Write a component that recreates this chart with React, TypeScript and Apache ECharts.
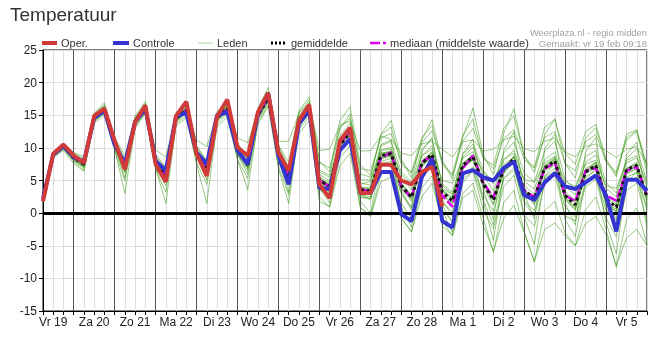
import React, { useEffect, useRef } from "react";
import * as echarts from "echarts";

// x index: 6-hourly steps from vr 19 feb 06:00 (index 0) to za 6 mrt 00:00 (index 59)
const dagLabels = ["Vr 19", "Za 20", "Zo 21", "Ma 22", "Di 23", "Wo 24", "Do 25", "Vr 26", "Za 27", "Zo 28", "Ma 1", "Di 2", "Wo 3", "Do 4", "Vr 5"];
const middernachten = [3, 7, 11, 15, 19, 23, 27, 31, 35, 39, 43, 47, 51, 55];
const yTicks = [-15, -10, -5, 0, 5, 10, 15, 20, 25];

const oper = [1.8, 9.1, 10.5, 8.8, 7.7, 14.9, 16.0, 11.1, 6.7, 14.0, 16.5, 7.5, 4.8, 14.9, 17.1, 9.1, 5.7, 14.8, 17.4, 10.1, 8.8, 15.5, 18.4, 9.3, 6.5, 14.2, 16.6, 4.4, 2.3, 11.1, 13.1, 3.1, 3.1, 7.4, 7.4, 5.0, 4.4, 6.3, 7.1, 1.0];
const controle = [2.2, 9.0, 10.3, 8.6, 7.9, 14.6, 15.7, 10.5, 7.6, 14.0, 16.0, 8.0, 6.5, 14.9, 15.3, 9.3, 7.5, 15.0, 15.5, 9.6, 7.5, 15.3, 18.4, 8.8, 4.4, 13.7, 15.8, 3.9, 3.7, 9.6, 11.4, 3.1, 3.1, 6.3, 6.3, -0.2, -1.2, 5.5, 8.3, -1.2, -2.2, 6.1, 6.6, 5.5, 5.0, 6.9, 7.9, 2.8, 2.0, 4.7, 6.1, 4.1, 3.7, 4.7, 5.8, 2.7, -2.8, 5.1, 5.1, 3.4];
const gemiddelde = [2.0, 9.0, 10.2, 8.5, 7.5, 14.6, 15.8, 10.6, 7.0, 14.0, 16.0, 7.6, 5.8, 14.5, 15.8, 9.2, 7.0, 14.6, 16.0, 9.6, 7.4, 15.0, 17.6, 9.0, 5.7, 14.0, 16.0, 5.0, 4.1, 10.4, 12.4, 3.6, 3.4, 8.8, 9.1, 4.2, 2.4, 7.6, 9.0, 3.2, 1.9, 7.3, 8.6, 4.5, 2.0, 6.8, 8.3, 3.5, 2.2, 6.9, 8.0, 2.7, 1.3, 6.3, 7.3, 2.2, 0.9, 6.6, 7.3, 2.4];
const mediaan = [2.0, 9.0, 10.2, 8.5, 7.5, 14.6, 15.9, 10.6, 7.1, 14.0, 16.0, 7.7, 5.9, 14.5, 15.8, 9.2, 7.0, 14.6, 16.0, 9.6, 7.4, 15.0, 17.7, 9.0, 5.6, 14.1, 16.1, 5.1, 4.0, 10.6, 12.6, 3.7, 3.3, 8.5, 9.3, 4.0, 2.4, 7.8, 8.8, 2.7, 1.0, 6.9, 8.8, 4.7, 2.4, 6.9, 8.1, 3.4, 2.5, 6.8, 7.7, 2.7, 1.9, 6.5, 6.9, 2.7, 1.9, 6.5, 7.1, 2.7];

const lid01 = [2.3, 9.2, 10.4, 8.8, 7.9, 14.9, 16.2, 10.9, 7.5, 14.3, 16.4, 8.1, 6.4, 14.8, 16.1, 9.6, 7.5, 15.0, 16.4, 10.1, 7.9, 15.4, 18.1, 9.6, 6.4, 14.6, 16.7, 5.9, 5.0, 11.4, 13.2, 4.6, 4.3, 9.7, 10.1, 5.4, 3.6, 8.8, 10.3, 4.5, 3.2, 8.6, 10.1, 5.8, 3.4, 8.0, 9.7, 4.9, 3.7, 8.2, 9.4, 4.1, 2.8, 7.8, 8.9, 3.8, 2.5, 8.1, 8.8, 3.9];
const lid02 = [1.7, 8.6, 9.8, 8.0, 7.0, 14.1, 15.3, 10.0, 6.2, 13.5, 15.5, 7.0, 4.9, 14.0, 15.3, 8.6, 6.2, 14.1, 15.4, 8.9, 6.6, 14.4, 17.0, 8.3, 4.8, 13.2, 15.2, 4.0, 2.9, 9.4, 11.3, 2.5, 2.2, 7.6, 7.9, 2.9, 0.9, 6.1, 7.5, 1.6, 0.2, 5.7, 7.1, 2.8, 0.3, 5.2, 6.6, 1.8, 0.4, 5.3, 6.4, 0.9, -0.6, 4.6, 5.6, 0.4, -1.1, 4.8, 5.5, 0.5];
const lid03 = [2.5, 9.4, 10.6, 9.2, 8.3, 15.2, 16.6, 11.4, 8.2, 14.6, 16.8, 9.0, 7.0, 15.1, 16.5, 10.2, 8.0, 15.3, 16.6, 10.5, 8.5, 15.8, 18.5, 10.4, 7.8, 15.4, 17.3, 7.8, 6.9, 13.1, 14.6, 6.8, 6.5, 11.5, 12.2, 7.9, 6.1, 10.8, 12.6, 8.0, 5.7, 11.0, 13.0, 8.6, 6.8, 11.4, 12.8, 8.2, 6.9, 11.6, 12.5, 7.6, 6.5, 10.9, 12.1, 7.9, 6.3, 11.2, 12.5, 7.3];
const lid04 = [1.6, 8.5, 9.6, 7.6, 6.4, 13.8, 15.0, 9.6, 5.0, 13.0, 15.2, 6.7, 3.2, 13.4, 14.6, 7.8, 4.4, 13.2, 14.7, 8.2, 5.3, 13.6, 16.4, 7.2, 2.8, 12.2, 14.2, 1.8, 1.0, 7.2, 9.2, 0.8, -0.5, 4.8, 5.5, -0.8, -2.8, 2.5, 4.6, -1.2, -3.5, 2.3, 3.5, -1.9, -5.8, -0.8, 1.2, -3.0, -7.4, -2.5, -1.5, -3.5, -5.0, -1.6, -0.5, -3.3, -8.0, -3.8, -2.5, -5.0];
const lid05 = [2.1, 9.0, 10.1, 8.4, 7.3, 14.5, 15.9, 10.4, 6.8, 13.9, 15.9, 7.9, 6.1, 14.6, 15.9, 9.0, 7.2, 14.7, 16.1, 9.8, 7.0, 14.9, 17.5, 8.8, 5.2, 13.8, 15.7, 5.3, 4.4, 10.9, 12.9, 3.9, 3.9, 9.2, 9.4, 3.7, 1.8, 7.2, 8.5, 2.6, 1.5, 6.8, 8.2, 4.9, 1.4, 6.1, 7.9, 4.2, 2.9, 7.4, 8.6, 3.3, 1.9, 6.8, 7.8, 1.6, 0.3, 6.0, 6.9, 2.9];
const lid06 = [2.4, 9.1, 10.3, 8.7, 7.6, 14.7, 16.0, 10.8, 7.3, 14.2, 16.2, 7.8, 5.5, 14.3, 15.6, 9.4, 6.8, 14.9, 16.3, 9.9, 7.7, 15.2, 17.9, 9.4, 6.0, 14.5, 16.5, 5.5, 4.7, 11.2, 13.1, 4.4, 4.9, 10.3, 11.0, 6.3, 4.8, 9.8, 11.4, 4.3, 2.8, 9.0, 10.6, 6.6, 4.5, 9.2, 10.9, 6.1, 4.8, 9.5, 11.0, 5.2, 3.6, 8.7, 9.6, 4.7, 3.1, 8.4, 9.9, 4.9];
const lid07 = [1.9, 8.8, 10.0, 8.2, 7.1, 14.3, 15.5, 10.2, 6.5, 13.7, 15.7, 7.3, 5.2, 14.1, 15.4, 8.8, 6.6, 14.3, 15.7, 9.3, 7.1, 14.6, 17.2, 8.5, 5.0, 13.5, 15.5, 4.3, 3.2, 9.7, 11.8, 2.8, 2.5, 7.9, 8.4, 3.1, 0.5, 5.9, 7.9, 1.2, -1.5, 5.1, 6.6, 2.0, -1.8, 5.4, 7.0, 1.6, -0.4, 5.5, 6.9, 2.1, 0.6, 6.0, 7.1, 1.7, -0.8, 5.5, 6.2, 0.8];
const lid08 = [2.2, 9.3, 10.5, 8.6, 7.4, 15.0, 16.4, 10.5, 7.0, 14.5, 16.7, 7.5, 5.6, 15.0, 16.3, 9.1, 6.9, 15.0, 16.5, 9.5, 7.2, 15.5, 18.6, 8.9, 5.3, 14.8, 17.0, 4.8, 3.6, 11.8, 13.8, 2.9, 2.0, 10.5, 11.2, 3.4, 0.8, 9.4, 11.6, 2.1, -0.6, 9.1, 11.3, 3.6, -1.0, 9.6, 12.5, 2.9, -0.9, 9.9, 12.1, 1.5, -1.8, 9.4, 11.6, 0.9, -2.6, 9.0, 10.9, 1.3];
const lid09 = [1.8, 8.9, 10.3, 8.5, 7.6, 14.4, 15.6, 10.6, 7.2, 13.8, 15.8, 7.6, 6.0, 14.4, 15.9, 9.3, 7.3, 14.5, 15.8, 9.7, 7.5, 15.0, 17.3, 9.2, 5.9, 13.9, 15.9, 5.1, 4.3, 10.2, 12.0, 3.7, 3.6, 8.4, 8.7, 4.5, 2.6, 7.5, 8.7, 3.6, 2.4, 7.0, 8.1, 4.4, 2.1, 6.5, 7.6, 3.0, 1.8, 6.4, 7.5, 2.4, 1.0, 5.6, 6.5, 1.5, 0.6, 6.1, 6.8, 2.0];
const lid10 = [2.0, 9.0, 10.2, 8.3, 7.2, 14.5, 15.8, 10.3, 5.4, 13.9, 16.1, 7.0, 4.2, 14.6, 16.0, 8.7, 5.1, 14.6, 16.2, 9.0, 6.0, 15.2, 17.8, 8.1, 3.2, 14.0, 16.2, 3.8, 1.6, 10.5, 12.6, 1.8, 0.0, 8.2, 8.9, 1.0, -2.2, 7.1, 8.9, 0.4, -3.0, 7.0, 8.9, 1.8, -4.2, 6.0, 8.6, -0.5, -4.8, 5.6, 7.8, -1.0, -3.6, 5.1, 6.9, -1.5, -6.2, 4.6, 6.4, -2.4];
const lid11 = [2.3, 9.1, 10.4, 8.9, 7.8, 14.8, 16.0, 10.9, 7.8, 14.1, 16.1, 8.4, 6.6, 14.6, 15.8, 9.8, 7.9, 14.7, 15.9, 10.3, 8.2, 15.2, 17.6, 9.8, 6.8, 14.4, 16.4, 6.3, 5.5, 11.0, 12.5, 5.1, 5.1, 9.6, 9.8, 5.9, 4.4, 8.8, 9.8, 5.0, 4.6, 8.4, 9.4, 6.2, 5.0, 8.3, 9.2, 5.2, 4.7, 7.8, 8.7, 4.8, 4.1, 7.5, 8.1, 4.2, 3.8, 7.7, 8.5, 4.6];
const lid12 = [1.9, 8.9, 10.0, 8.4, 7.3, 14.6, 15.9, 10.4, 6.9, 14.0, 16.0, 7.8, 5.7, 14.4, 15.7, 9.0, 6.9, 14.5, 15.9, 9.4, 7.2, 14.9, 17.5, 8.7, 5.5, 13.8, 15.8, 4.6, 3.8, 10.1, 12.2, 3.2, 3.0, 8.9, 9.5, 4.0, 2.2, 7.9, 9.3, 3.3, 2.0, 7.5, 9.0, 4.0, 1.2, 6.9, 8.8, 3.1, 1.5, 7.2, 8.4, 2.3, 0.8, 6.6, 7.8, 2.0, 0.1, 6.8, 7.8, 2.6];
const lid13 = [2.6, 9.4, 10.7, 9.0, 8.0, 15.3, 16.9, 11.1, 7.7, 14.9, 17.1, 8.8, 6.8, 15.4, 16.9, 10.4, 7.8, 15.6, 17.1, 10.8, 8.3, 16.1, 19.3, 10.3, 7.0, 15.7, 17.8, 8.0, 6.3, 14.2, 16.3, 7.4, 5.8, 12.1, 14.2, 8.3, 5.4, 11.2, 14.3, 7.9, 5.2, 11.6, 16.1, 9.0, 5.9, 12.2, 16.0, 8.8, 6.2, 12.0, 14.5, 7.6, 5.4, 11.5, 13.1, 7.9, 5.6, 11.6, 12.6, 6.1];
const lid14 = [1.7, 8.7, 9.9, 7.9, 6.6, 14.0, 15.4, 9.9, 3.0, 13.3, 15.4, 6.9, 1.5, 13.7, 14.9, 7.5, 1.5, 13.6, 15.2, 8.2, 3.6, 14.0, 16.6, 6.8, 1.5, 12.8, 14.8, 2.5, 0.9, 8.5, 10.3, 0.9, -0.5, 6.0, 6.4, -0.8, -2.9, 3.9, 5.7, -2.0, -3.4, 3.0, 4.6, -0.8, -6.0, 1.6, 3.5, -2.8, -7.5, 0.4, 1.8, -3.0, -5.0, 0.5, 2.5, -2.5, -8.3, -1.0, 0.8, -4.8];
const lid15 = [2.1, 9.1, 10.3, 8.6, 7.5, 14.7, 15.9, 10.6, 7.1, 14.2, 16.2, 7.7, 5.9, 14.7, 16.0, 9.3, 7.1, 14.8, 16.2, 9.8, 7.5, 15.1, 17.8, 9.1, 5.9, 14.2, 16.2, 5.4, 4.4, 10.8, 12.8, 3.9, 3.8, 9.2, 9.5, 3.8, 2.1, 8.0, 9.4, 2.9, 1.6, 7.6, 8.9, 4.9, 2.6, 7.4, 8.6, 3.7, 1.2, 7.0, 8.2, 2.1, 0.4, 6.2, 7.4, 1.2, 0.2, 6.9, 7.6, 2.8];
const lid16 = [2.0, 8.9, 10.1, 8.4, 7.4, 14.5, 15.7, 10.5, 6.9, 13.9, 15.9, 7.5, 5.7, 14.4, 15.7, 9.1, 6.9, 14.4, 15.8, 9.5, 7.3, 14.9, 17.4, 8.9, 5.6, 13.9, 15.9, 4.9, 3.9, 10.3, 12.3, 3.5, 3.3, 8.6, 8.8, 4.6, 2.8, 7.4, 8.6, 3.8, 2.9, 7.2, 8.3, 4.3, 2.2, 6.9, 8.0, 3.3, 2.5, 6.8, 7.9, 2.9, 1.9, 6.4, 7.3, 2.5, 1.5, 6.7, 7.3, 2.1];
const lid17 = [2.2, 9.2, 10.4, 8.7, 7.7, 14.8, 16.1, 10.8, 7.4, 14.3, 16.3, 8.0, 6.2, 14.8, 16.2, 9.6, 7.4, 14.9, 16.3, 10.0, 7.8, 15.3, 18.0, 9.5, 6.5, 14.7, 16.6, 6.6, 5.8, 12.9, 15.2, 6.0, 5.5, 12.0, 13.2, 7.4, 6.3, 11.6, 13.4, 7.4, 6.0, 11.9, 14.4, 8.3, 7.4, 13.0, 14.9, 8.7, 7.0, 13.2, 14.3, 9.1, 7.5, 12.5, 13.6, 8.3, 5.9, 12.1, 12.8, 7.0];
const lid18 = [1.9, 8.8, 10.0, 8.1, 7.0, 14.2, 15.5, 10.1, 6.3, 13.6, 15.6, 7.2, 5.0, 14.0, 15.4, 8.7, 6.4, 14.2, 15.6, 9.1, 6.8, 14.5, 17.1, 8.4, 4.6, 13.4, 15.3, 3.6, 2.6, 9.4, 11.5, 2.4, 2.3, 7.2, 7.6, 1.5, -0.8, 5.3, 7.2, 0.5, -1.2, 4.6, 6.5, 0.5, -2.4, 4.0, 5.8, -0.3, -2.0, 4.4, 5.8, -0.4, -1.2, 4.0, 5.2, -0.8, -3.6, 3.5, 4.6, -1.3];
const lid19 = [2.2, 9.1, 10.3, 8.6, 7.6, 14.7, 15.8, 10.7, 7.2, 14.1, 16.0, 7.7, 6.0, 14.5, 15.8, 9.2, 7.0, 14.6, 15.9, 9.6, 7.5, 15.0, 17.7, 9.0, 5.8, 14.1, 16.1, 5.2, 4.2, 10.6, 12.5, 3.8, 3.6, 9.0, 9.3, 4.4, 2.6, 7.8, 9.2, 3.4, 2.3, 7.6, 8.9, 4.6, 2.1, 7.0, 8.6, 3.5, 2.4, 7.1, 8.3, 2.7, 1.5, 6.5, 7.6, 2.3, 1.1, 6.8, 7.5, 2.4];
const lid20 = [2.4, 9.3, 10.6, 9.3, 8.6, 15.1, 16.3, 11.6, 8.8, 14.6, 16.5, 9.7, 8.6, 15.0, 16.2, 11.2, 10.2, 15.1, 16.2, 11.5, 10.8, 15.6, 17.9, 11.0, 11.0, 15.3, 16.8, 9.6, 9.8, 13.5, 14.1, 9.5, 9.6, 11.8, 11.3, 9.2, 8.8, 10.6, 11.0, 9.8, 8.6, 10.9, 11.2, 9.5, 9.8, 11.2, 11.8, 9.9, 9.4, 11.0, 11.5, 9.3, 8.7, 10.2, 10.6, 9.6, 8.5, 9.8, 10.2, 7.5];
const leden = [lid01, lid02, lid03, lid04, lid05, lid06, lid07, lid08, lid09, lid10, lid11, lid12, lid13, lid14, lid15, lid16, lid17, lid18, lid19, lid20];

const FONT = "'Liberation Sans', Arial, sans-serif";
const toPts = (arr: number[]) => arr.map((v, i) => [i, v]);

export default function App() {
  const ref = useRef<HTMLDivElement>(null);
  useEffect(() => {
    if (!ref.current) return;
    const chart = echarts.init(ref.current, null, { renderer: "svg" });
    const ledenSeries = leden.map((arr) => ({
      type: "line",
      name: "Leden",
      data: toPts(arr),
      showSymbol: false,
      symbol: "none",
      silent: true,
      z: 3,
      lineStyle: { color: "rgba(50,150,10,0.5)", width: 1 },
    }));
    const option: any = {
      animation: false,
      textStyle: { fontFamily: FONT },
      grid: { left: 43, right: 18, top: 50, bottom: 26, show: true, borderColor: "#000", borderWidth: 1, backgroundColor: "transparent" },
      xAxis: {
        type: "value",
        min: 0,
        max: 59,
        interval: 1,
        axisLine: { show: true, onZero: false, lineStyle: { color: "#000", width: 1 } },
        axisTick: { show: true, length: 4, lineStyle: { color: "#000" } },
        axisLabel: {
          margin: 5,
          color: "#222",
          fontSize: 12,
          fontFamily: FONT,
          formatter: (v: number) => (v % 4 === 1 ? dagLabels[(v - 1) / 4] : ""),
        },
        splitLine: { show: true, lineStyle: { color: "#dcdcdc", width: 1 } },
      },
      yAxis: {
        type: "value",
        min: yTicks[0],
        max: yTicks[yTicks.length - 1],
        interval: 5,
        axisLine: { show: true, lineStyle: { color: "#000", width: 1 } },
        axisTick: { show: true, length: 4, lineStyle: { color: "#000" } },
        axisLabel: { margin: 6, color: "#222", fontSize: 12, fontFamily: FONT },
        splitLine: { show: true, lineStyle: { color: "#dcdcdc", width: 1 } },
      },
      title: {
        text: "Temperatuur",
        left: 10,
        top: 5,
        padding: 0,
        textStyle: { fontSize: 19, fontWeight: "normal", color: "#333", fontFamily: FONT },
      },
      graphic: [
        { type: "text", right: 18, top: 28, style: { text: "Weerplaza.nl - regio midden", fill: "#a0a0a0", font: `9.4px ${FONT}` } },
        { type: "text", right: 18, top: 38, style: { text: "Gemaakt: vr 19 feb 09:18", fill: "#a0a0a0", font: `9.6px ${FONT}` } },
        { type: "line", shape: { x1: 42, y1: 43, x2: 57, y2: 43 }, style: { stroke: "#d23a3a", lineWidth: 4 } },
        { type: "text", x: 61, y: 43, style: { text: "Oper.", fill: "#333", font: `11px ${FONT}`, verticalAlign: "middle" } },
        { type: "line", shape: { x1: 113, y1: 43, x2: 129, y2: 43 }, style: { stroke: "#3434d2", lineWidth: 4 } },
        { type: "text", x: 133, y: 43, style: { text: "Controle", fill: "#333", font: `11px ${FONT}`, verticalAlign: "middle" } },
        { type: "line", shape: { x1: 198, y1: 43, x2: 213, y2: 43 }, style: { stroke: "#a8d49a", lineWidth: 1 } },
        { type: "text", x: 217, y: 43, style: { text: "Leden", fill: "#333", font: `11px ${FONT}`, verticalAlign: "middle" } },
        { type: "line", shape: { x1: 271, y1: 43, x2: 285, y2: 43 }, style: { stroke: "#000", lineWidth: 3, lineDash: [2, 2] } },
        { type: "text", x: 291, y: 43, style: { text: "gemiddelde", fill: "#333", font: `11px ${FONT}`, verticalAlign: "middle" } },
        { type: "line", shape: { x1: 370, y1: 43, x2: 386, y2: 43 }, style: { stroke: "#e000f0", lineWidth: 2.5, lineDash: [10, 3] } },
        { type: "text", x: 390, y: 43, style: { text: "mediaan (middelste waarde)", fill: "#333", font: `11px ${FONT}`, verticalAlign: "middle" } },
      ],
      series: [
        {
          type: "line",
          name: "raster",
          data: [],
          silent: true,
          z: 1,
          markLine: {
            silent: true,
            symbol: "none",
            label: { show: false },
            lineStyle: { color: "#555", width: 1, type: "solid" },
            data: middernachten.map((m) => ({ xAxis: m })),
          },
        },
        ...ledenSeries,
        {
          type: "line",
          name: "nul",
          data: [],
          silent: true,
          z: 4,
          markLine: {
            silent: true,
            symbol: "none",
            label: { show: false },
            lineStyle: { color: "#000", width: 3, type: "solid" },
            data: [{ yAxis: 0 }],
          },
        },
        {
          type: "line",
          name: "mediaan",
          data: toPts(mediaan),
          showSymbol: false,
          symbol: "none",
          z: 5,
          lineStyle: { color: "#e000f0", width: 2.5, type: [9, 3] },
        },
        {
          type: "line",
          name: "gemiddelde",
          data: toPts(gemiddelde),
          showSymbol: false,
          symbol: "none",
          z: 6,
          lineStyle: { color: "#111", width: 3, type: [3, 3] },
        },
        {
          type: "line",
          name: "Controle",
          data: toPts(controle),
          showSymbol: false,
          symbol: "none",
          z: 7,
          lineStyle: { color: "#3434d2", width: 4 },
        },
        {
          type: "line",
          name: "Oper.",
          data: toPts(oper),
          showSymbol: false,
          symbol: "none",
          z: 8,
          lineStyle: { color: "#d23a3a", width: 4 },
        },
      ],
    };
    chart.setOption(option);
    return () => chart.dispose();
  }, []);
  return <div ref={ref} style={{ position: "fixed", left: 0, top: 0, width: 665, height: 337 }} />;
}
